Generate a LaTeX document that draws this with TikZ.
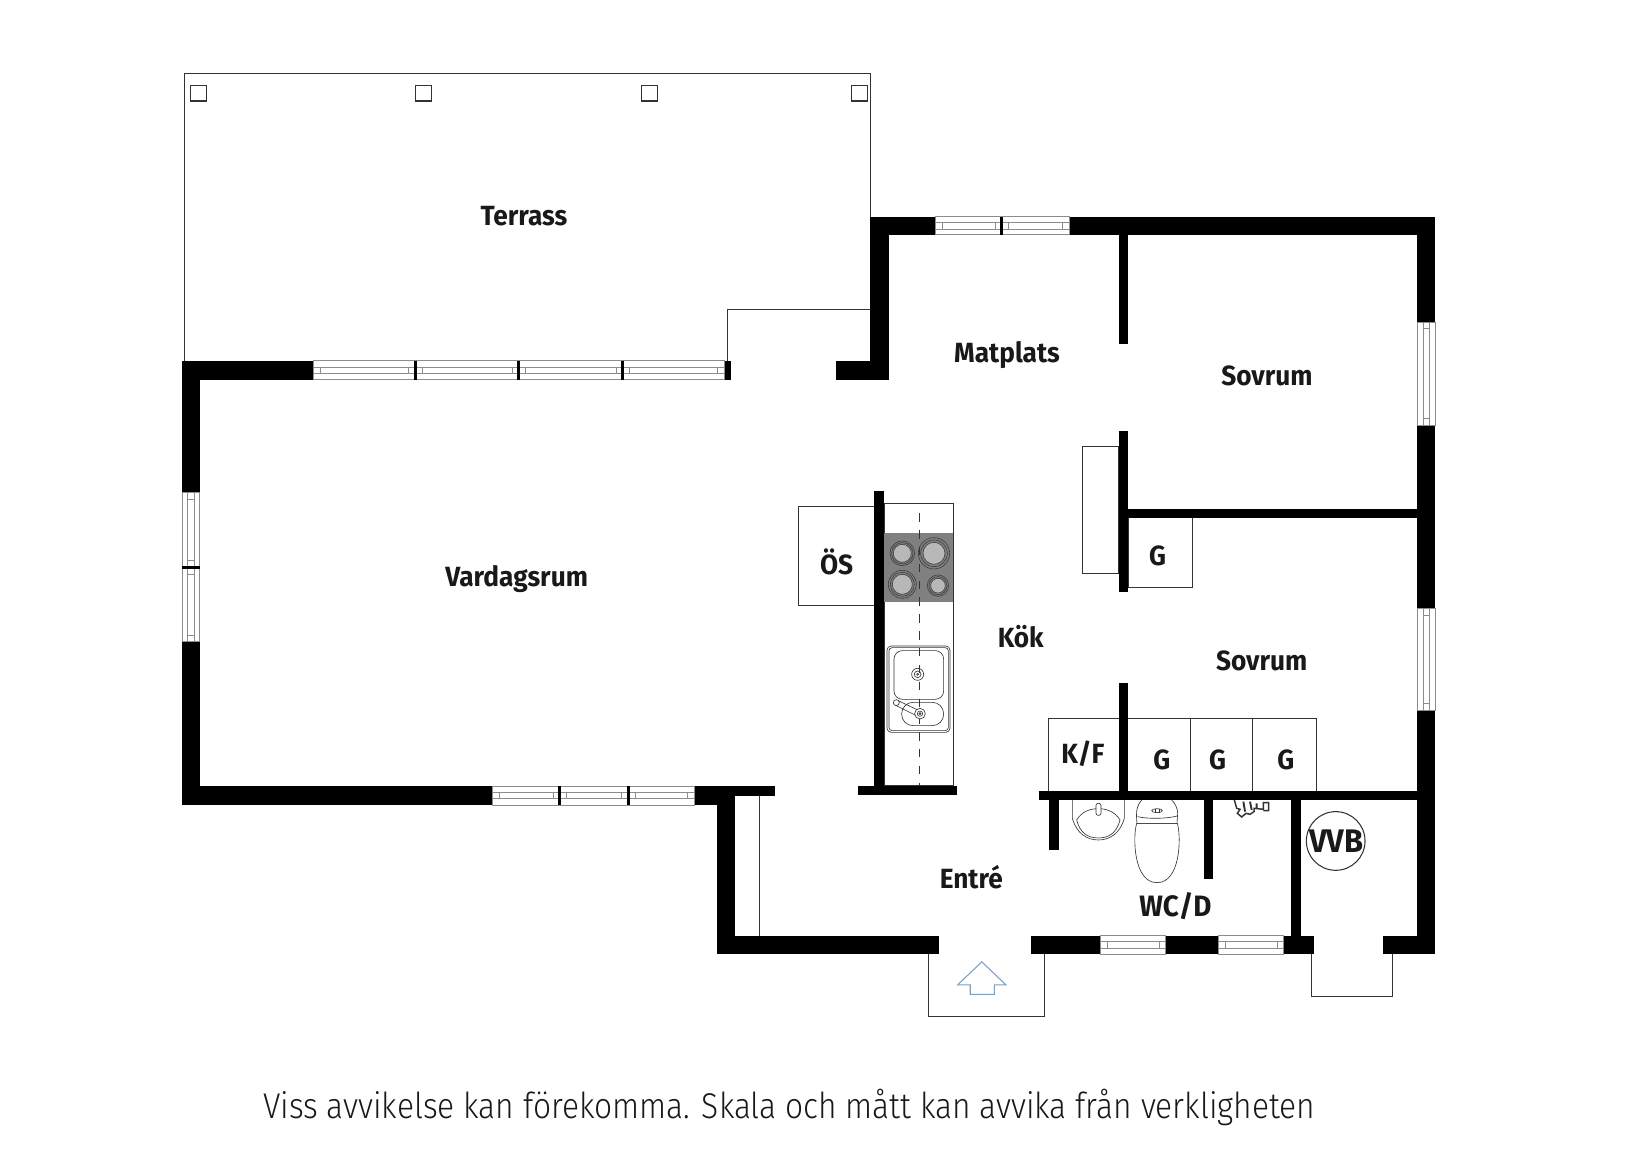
\documentclass[tikz,border=0pt]{standalone}
\usepackage{fontspec}
\setmainfont{Fira Sans}[FakeStretch=0.945]
\newfontfamily\notefont{Fira Sans Light}[FakeStretch=0.887]
\definecolor{wline}{HTML}{333333}
\definecolor{winline}{HTML}{8C8C8C}
\definecolor{arrowblue}{HTML}{7F9FBF}
\tikzset{
  x=0.5pt,y=-0.5pt,
  wall/.style={fill=black,draw=none},
  thin line/.style={draw=wline,line width=0.5pt},
  fine/.style={draw=wline,line width=0.3pt},
  lab/.style={font=\bfseries\fontsize{13.2}{14}\selectfont,text=black!90,inner sep=0pt},
  winframe/.style={draw=winline,line width=0.45pt,fill=white},
  winlight/.style={draw=winline,line width=0.4pt},
  z1/.style={shift={(741.2,446.6)},x=0.1584pt,y=-0.1584pt},
  z2/.style={shift={(978.8,731.7)},x=0.1584pt,y=-0.1584pt},
}
% horizontal window: x1 x2 ytop ybottom
\newcommand{\hwin}[4]{%
  \path[winframe] (#1,#3) rectangle (#2,#4);
  \pgfmathsetmacro{\ym}{(#3+#4)/2}
  \draw[winlight] (#1,\ym-3.2) -- (#2,\ym-3.2) (#1,\ym+3.2) -- (#2,\ym+3.2);
  \draw[winlight] (#1+6.5,\ym-3.2) -- (#1+6.5,\ym+3.2) (#2-6.5,\ym-3.2) -- (#2-6.5,\ym+3.2);
}
\newcommand{\vwin}[4]{%
  \path[winframe] (#3,#1) rectangle (#4,#2);
  \pgfmathsetmacro{\xm}{(#3+#4)/2}
  \draw[winlight] (\xm-3.2,#1) -- (\xm-3.2,#2) (\xm+3.2,#1) -- (\xm+3.2,#2);
  \draw[winlight] (\xm-3.2,#1+6.5) -- (\xm+3.2,#1+6.5) (\xm-3.2,#2-6.5) -- (\xm+3.2,#2-6.5);
}
\begin{document}
\begin{tikzpicture}
\useasboundingbox[fill=white] (0,0) rectangle (1568,1108);
% terrace
\draw[thin line] (175,343) -- (175,70) -- (827,70) -- (827,206);
\draw[thin line] (691,343) -- (691,294) -- (827,294);
\foreach \xx in {181,395,610,809} \draw[thin line] (\xx,81) rectangle ++(15,15);
% counter etc (thin lines under walls)
\draw[thin line] (722,756) -- (722,889);
\draw[thin line] (759,481) rectangle (832,575);
\draw[thin line] (1029,424) rectangle (1063,545);
\draw[thin line] (1072,492) rectangle (1133,558);
\draw[thin line] (996,752) -- (996,683) -- (1251,683) -- (1251,752);
\draw[thin line] (1131,683) -- (1131,752) (1190,683) -- (1190,752);
\draw[thin line] (882,907) -- (882,966) -- (993,966) -- (993,907);
\draw[thin line] (1246,907) -- (1246,947) -- (1323,947) -- (1323,907);
% entrance arrow
\draw[draw=arrowblue,line width=0.5pt] (933,914) -- (956,936) -- (945,936) -- (945,945) -- (922,945) -- (922,936) -- (910,936) -- cycle;
% outer walls
\fill[wall] (173,343) rectangle (298,361);
\fill[wall] (173,343) rectangle (190,468);
\fill[wall] (173,610) rectangle (190,765);
\fill[wall] (173,747) rectangle (468,765);
\fill[wall] (660,747) rectangle (698,765);
\fill[wall] (698,747) rectangle (736,756);
\fill[wall] (681,747) rectangle (698,907);
\fill[wall] (681,889) rectangle (892,907);
\fill[wall] (980,889) rectangle (1046,907);
\fill[wall] (1108,889) rectangle (1158,907);
\fill[wall] (1220,889) rectangle (1249,907);
\fill[wall] (1314,889) rectangle (1364,907);
\fill[wall] (1347,675) rectangle (1364,907);
\fill[wall] (1347,404) rectangle (1364,578);
\fill[wall] (1347,206) rectangle (1364,306);
\fill[wall] (1016,206) rectangle (1364,223);
\fill[wall] (827,206) rectangle (889,223);
\fill[wall] (827,206) rectangle (845,361);
\fill[wall] (794,343) rectangle (845,361);
\fill[wall] (688,343) rectangle (695,361);
% inner walls
\fill[wall] (1063,223) rectangle (1072,327);
\fill[wall] (1063,410) rectangle (1072,563);
\fill[wall] (1063,649) rectangle (1072,752);
\fill[wall] (1072,484) rectangle (1347,492);
\fill[wall] (987,752) rectangle (1347,760);
\fill[wall] (997,760) rectangle (1006,808);
\fill[wall] (1144,760) rectangle (1153,835);
\fill[wall] (1227,760) rectangle (1236,889);
% windows
\hwin{298}{395}{343}{361}\hwin{395}{493}{343}{361}\hwin{493}{592}{343}{361}\hwin{592}{688}{343}{361}
\hwin{889}{952}{206}{223}\hwin{952}{1016}{206}{223}
\hwin{468}{532}{747}{765}\hwin{532}{597}{747}{765}\hwin{597}{660}{747}{765}
\hwin{1046}{1108}{889}{907}\hwin{1158}{1220}{889}{907}
\vwin{468}{539}{173}{190}\vwin{539}{610}{173}{190}
\vwin{306}{404}{1347}{1364}\vwin{578}{675}{1347}{1364}
% mullions
\foreach \xx in {395,493,592} \fill[wall] (\xx-1.4,343) rectangle (\xx+1.4,361);
\fill[wall] (952-1.4,206) rectangle (952+1.4,223);
\foreach \xx in {532,597} \fill[wall] (\xx-1.4,747) rectangle (\xx+1.4,765);
\fill[wall] (173,537.6) rectangle (190,540.4);
% kitchen
\begin{scope}[z1]
  \draw[thin line] (312,100) rectangle (520,948);
  \fill[black!50] (312,190) rectangle (520,395);
  \foreach \cx/\cy/\ra/\rb/\rc in {367/250/37/32/27, 462/250/47/40/33, 367/343/42/36/30, 474/347/32/27/22}{
    \draw[black!75,line width=0.3pt,fill=black!50] (\cx,\cy) circle (\ra);
    \draw[black!75,line width=0.3pt] (\cx,\cy) circle (\rb);
    \draw[black!75,line width=0.3pt,fill=black!28] (\cx,\cy) circle (\rc);
  }
  \draw[wline,line width=0.45pt,dash pattern=on 4pt off 4pt] (419,130) -- (419,945);
  \draw[fine,rounded corners=2pt] (321,528) rectangle (510,787);
  \draw[fine,rounded corners=1.5pt] (327,533) rectangle (505,782);
  \draw[fine,rounded corners=4pt] (342,542) rectangle (491,688);
  \draw[fine,rounded corners=5.4pt] (365,697) rectangle (491,767);
  \foreach \rr in {18,10,3} \draw[fine] (413,613) circle (\rr);
  \draw[fine] (352,691) -- (418,722) (345,705) -- (411,738);
  \draw[fine,fill=white] (349,698) circle (9);
  \draw[fine,fill=white] (420,731) circle (16);
  \foreach \rr in {8,3} \draw[fine] (420,731) circle (\rr);
  \fill[wall] (283,63) rectangle (311,948);
  \fill[wall] (234,948) rectangle (530,976);
\end{scope}
% bathroom
\begin{scope}[z2]
  % washbasin
  \draw[fine] (127,90) -- (127,145) .. controls (140,190) and (170,210) .. (205,210) .. controls (240,210) and (270,190) .. (283,145) -- (283,90);
  \draw[fine] (140,150) .. controls (150,190) and (175,204) .. (205,204) .. controls (235,204) and (260,190) .. (270,150) .. controls (255,125) and (230,116) .. (205,116) .. controls (180,116) and (155,125) .. (140,150) -- cycle;
  \draw[fine,fill=white,rounded corners=1pt] (198,100) rectangle (213,136);
  % toilet
  \draw[fine] (320,160) .. controls (308,200) and (310,338) .. (381,338) .. controls (452,338) and (454,200) .. (442,160) -- cycle;
  \draw[fine] (335,90) .. controls (322,105) and (318,120) .. (320,150) -- (321,160) -- (441,160) -- (443,130) .. controls (443,115) and (435,100) .. (425,90);
  \draw[fine] (323,140) .. controls (350,147) and (410,147) .. (441,138);
  \draw[fine] (381,122) ellipse (16 and 6);
  \draw[fine] (375,116) -- (375,128) (387,116) -- (387,128);
  % shower tap
  \draw[wline,line width=0.7pt,fill=white] (613,90) -- (620,115) -- (630,118) -- (622,130) -- (635,141) -- (648,130) -- (660,133) -- (672,125) -- (672,115) -- (700,118) -- (700,98) -- (716,98) -- (716,122) -- (700,122);
  \draw[wline,line width=0.9pt] (640,95) -- (645,125) (660,95) -- (665,120) (680,100) -- (680,115);
  % VVB
  \draw[thin line] (917,213) circle (88);
\end{scope}
% labels
\node[lab] (terrass) at (498,205) {Terrass};
\node[lab] (matplats) at (957,337) {Matplats};
\node[lab] (sovrum1) at (1204,357) {Sovrum};
\node[lab] (vardagsrum) at (491,550) {Vardagsrum};
\node[lab] (os) at (795,534) {ÖS};
\node[lab] (gone) at (1100,528) {G};
\node[lab] (kok) at (970,605) {Kök};
\node[lab] (sovrum2) at (1199,628) {Sovrum};
\node[lab] (kf) at (1029,716) {K/F};
\node[lab] (g1) at (1104,722) {G};
\node[lab] (g2) at (1157,722) {G};
\node[lab] (g3) at (1222,722) {G};
\node[lab,font=\bfseries\fontsize{15.5}{16}\selectfont] (vvb) at (1270,799) {VVB};
\node[lab] (entre) at (923,834) {Entré};
\node[lab,font=\bfseries\fontsize{14}{15}\selectfont] (wcd) at (1117,861) {WC/D};
\node[inner sep=0pt,font=\notefont\fontsize{17}{19}\selectfont,text=black!90] (note) at (750,1052) {Viss avvikelse kan förekomma. Skala och mått kan avvika från verkligheten};
\end{tikzpicture}
\end{document}
